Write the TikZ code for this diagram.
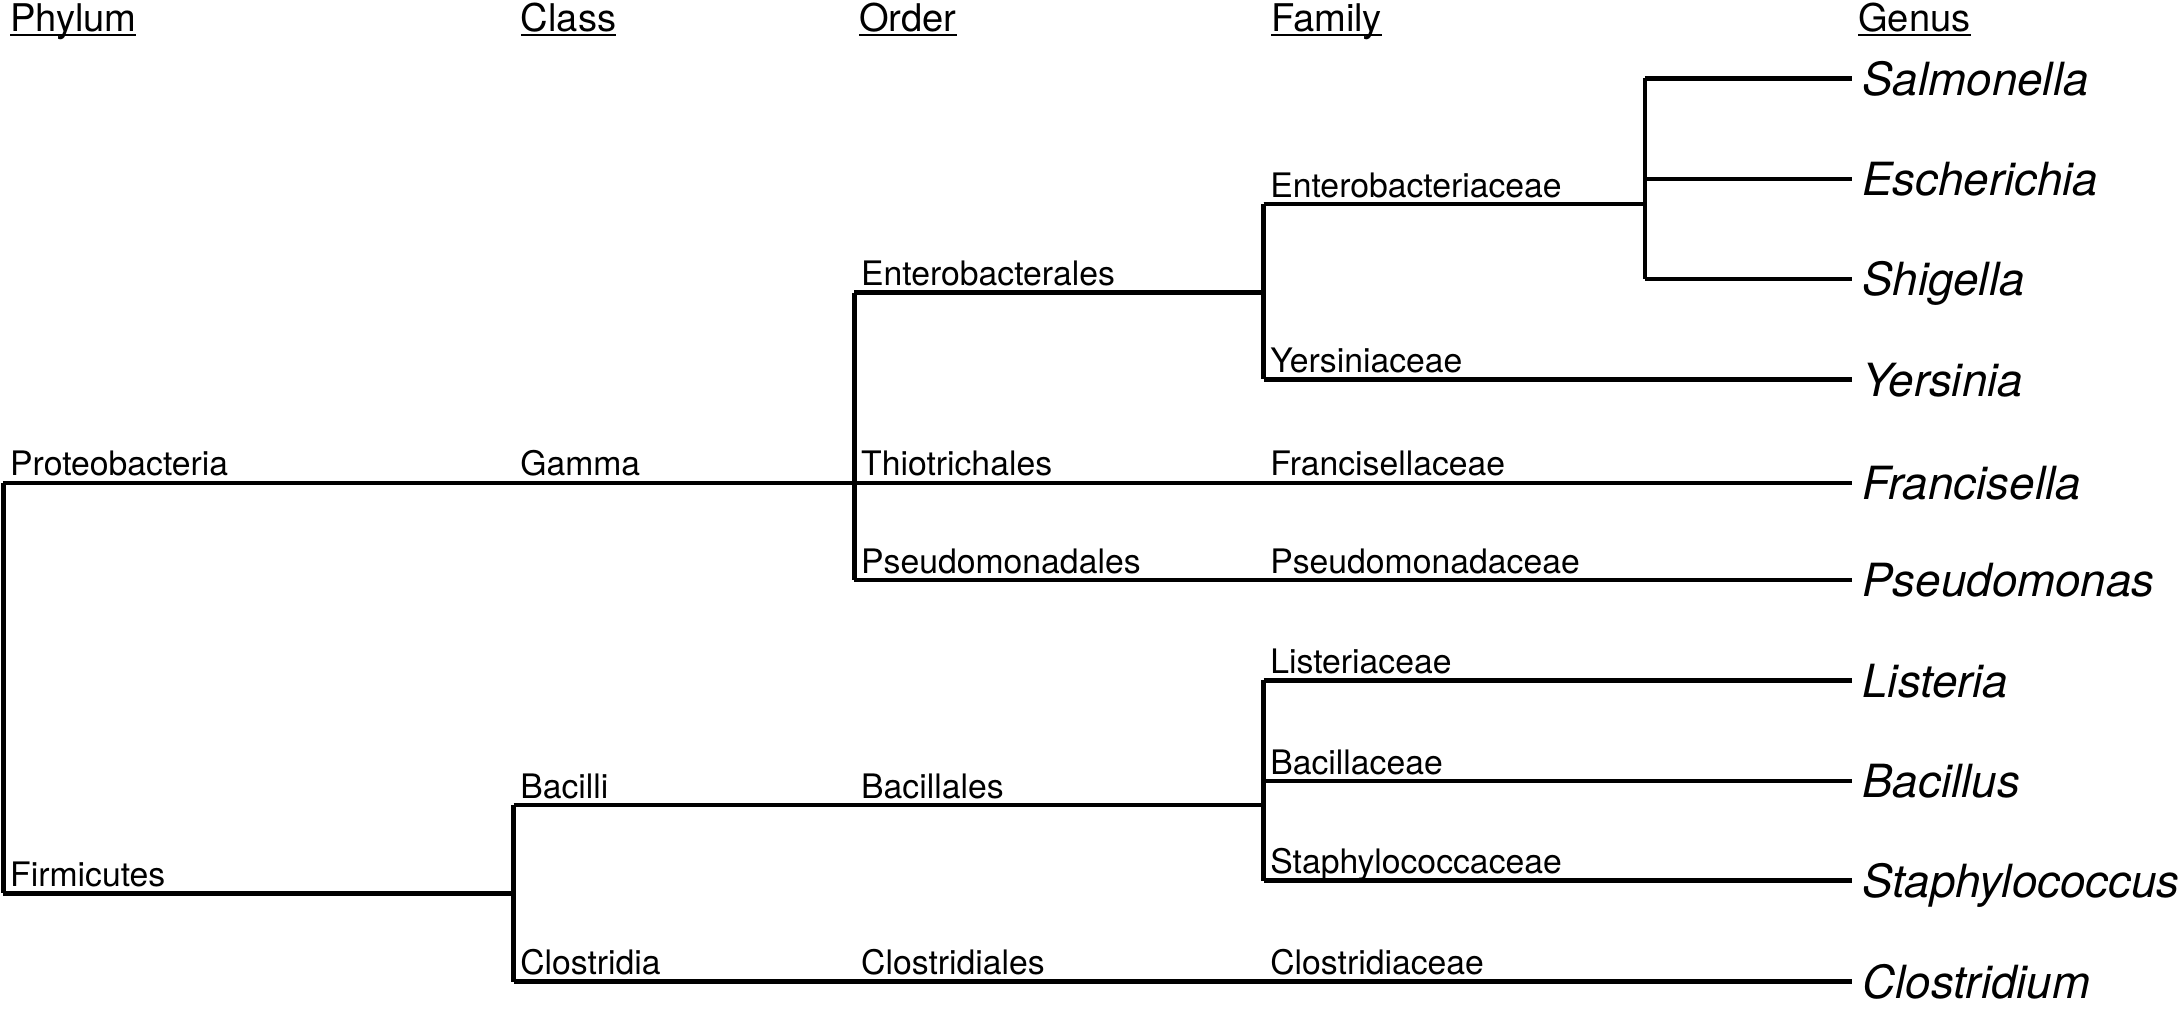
\documentclass[tikz,border=0pt]{standalone}
\usepackage{fontspec}
\setmainfont{TeX Gyre Heros}
\usetikzlibrary{positioning}
\newcommand{\rankline}[1]{\setbox0=\hbox{#1}\rlap{\rule[-1.6pt]{\wd0}{0.8pt}}\box0}

\begin{document}
\begin{tikzpicture}[x=0.02cm,y=-0.02cm,
    every node/.style={inner sep=0pt,anchor=base west},
    rank/.style={font=\fontsize{15.6}{18}\selectfont},
    taxon/.style={font=\fontsize{13.8}{16}\selectfont},
    genus/.style={font=\fontsize{18.7}{22}\selectfont\itshape},
    branch/.style={line width=1.8pt}]
  \useasboundingbox (0,0) rectangle (1568,733.7);
  % rank headings
  \node[rank] (hPhylum) at (7,22.8) {\rankline{Phylum}};
  \node[rank] (hClass) at (374,22.8) {\rankline{Class}};
  \node[rank] (hOrder) at (617,22.8) {\rankline{Order}};
  \node[rank] (hFamily) at (913,22.8) {\rankline{Family}};
  \node[rank] (hGenus) at (1335,22.8) {\rankline{Genus}};
  % branch points
  \coordinate (prot) at (2.5,347);
  \coordinate (firm) at (2.5,642);
  \coordinate (gam) at (369,347);
  \coordinate (bacl) at (369,578.5);
  \coordinate (clos) at (369,705.4);
  \coordinate (entO) at (614,210.3);
  \coordinate (thio) at (614,347);
  \coordinate (pseO) at (614,416.8);
  \coordinate (bacO) at (614,578.5);
  \coordinate (cloO) at (614,705.4);
  \coordinate (entF) at (908,146.6);
  \coordinate (yerF) at (908,272.6);
  \coordinate (fraF) at (908,347);
  \coordinate (pseF) at (908,416.8);
  \coordinate (lisF) at (908,488.9);
  \coordinate (bacF) at (908,561.2);
  \coordinate (staF) at (908,632.8);
  \coordinate (cloF) at (908,705.4);
  \coordinate (salG) at (1182,56.3);
  \coordinate (escG) at (1182,128.6);
  \coordinate (shiG) at (1182,200.7);
  % leaf ends
  \coordinate (sal) at (1330.5,56.3);
  \coordinate (esc) at (1330.5,128.6);
  \coordinate (shi) at (1330.5,200.7);
  \coordinate (yer) at (1330.5,272.6);
  \coordinate (fra) at (1330.5,347);
  \coordinate (pse) at (1330.5,416.8);
  \coordinate (lis) at (1330.5,488.9);
  \coordinate (bac) at (1330.5,561.2);
  \coordinate (sta) at (1330.5,632.8);
  \coordinate (clo) at (1330.5,705.4);
  % tree
  \draw[branch] (prot) -- (firm);
  \draw[branch] (prot) -- (gam);
  \draw[branch] (firm) -| (bacl);
  \draw[branch] (firm) -| (clos);
  \draw[branch] (gam) -| (entO);
  \draw[branch] (gam) -- (thio);
  \draw[branch] (gam) -| (pseO);
  \draw[branch] (bacl) -- (bacO);
  \draw[branch] (clos) -- (cloO);
  \draw[branch] (entO) -| (entF);
  \draw[branch] (entO) -| (yerF);
  \draw[branch] (thio) -- (fraF);
  \draw[branch] (pseO) -- (pseF);
  \draw[branch] (bacO) -| (lisF);
  \draw[branch] (bacO) -| (bacF);
  \draw[branch] (bacO) -| (staF);
  \draw[branch] (cloO) -- (cloF);
  \draw[branch] (entF) -| (salG);
  \draw[branch] (entF) -| (escG);
  \draw[branch] (entF) -| (shiG);
  \draw[branch] (salG) -- (sal);
  \draw[branch] (escG) -- (esc);
  \draw[branch] (shiG) -- (shi);
  \draw[branch] (yerF) -- (yer);
  \draw[branch] (fraF) -- (fra);
  \draw[branch] (pseF) -- (pse);
  \draw[branch] (lisF) -- (lis);
  \draw[branch] (bacF) -- (bac);
  \draw[branch] (staF) -- (sta);
  \draw[branch] (cloF) -- (clo);
  % taxon labels
  \node[taxon] (proteobacteria) at ([shift={(4.5,-5)}]prot) {Proteobacteria};
  \node[taxon] (firmicutes) at ([shift={(4.5,-5)}]firm) {Firmicutes};
  \node[taxon] (gamma) at ([shift={(4.5,-5)}]gam) {Gamma};
  \node[taxon] (bacilli) at ([shift={(4.5,-5)}]bacl) {Bacilli};
  \node[taxon] (clostridia) at ([shift={(4.5,-5)}]clos) {Clostridia};
  \node[taxon] (enterobacterales) at ([shift={(4.5,-5)}]entO) {Enterobacterales};
  \node[taxon] (thiotrichales) at ([shift={(4.5,-5)}]thio) {Thiotrichales};
  \node[taxon] (pseudomonadales) at ([shift={(4.5,-5)}]pseO) {Pseudomonadales};
  \node[taxon] (bacillales) at ([shift={(4.5,-5)}]bacO) {Bacillales};
  \node[taxon] (clostridiales) at ([shift={(4.5,-5)}]cloO) {Clostridiales};
  \node[taxon] (enterobacteriaceae) at ([shift={(4.5,-5)}]entF) {Enterobacteriaceae};
  \node[taxon] (yersiniaceae) at ([shift={(4.5,-5)}]yerF) {Yersiniaceae};
  \node[taxon] (francisellaceae) at ([shift={(4.5,-5)}]fraF) {Francisellaceae};
  \node[taxon] (pseudomonadaceae) at ([shift={(4.5,-5)}]pseF) {Pseudomonadaceae};
  \node[taxon] (listeriaceae) at ([shift={(4.5,-5)}]lisF) {Listeriaceae};
  \node[taxon] (bacillaceae) at ([shift={(4.5,-5)}]bacF) {Bacillaceae};
  \node[taxon] (staphylococcaceae) at ([shift={(4.5,-5)}]staF) {Staphylococcaceae};
  \node[taxon] (clostridiaceae) at ([shift={(4.5,-5)}]cloF) {Clostridiaceae};
  % genus labels
  \node[genus] (salmonella) at ([shift={(7.5,12)}]sal) {Salmonella};
  \node[genus] (escherichia) at ([shift={(7.5,12)}]esc) {Escherichia};
  \node[genus] (shigella) at ([shift={(7.5,12)}]shi) {Shigella};
  \node[genus] (yersinia) at ([shift={(7.5,12)}]yer) {Yersinia};
  \node[genus] (francisella) at ([shift={(7.5,12)}]fra) {Francisella};
  \node[genus] (pseudomonas) at ([shift={(7.5,12)}]pse) {Pseudomonas};
  \node[genus] (listeria) at ([shift={(7.5,12)}]lis) {Listeria};
  \node[genus] (bacillus) at ([shift={(7.5,12)}]bac) {Bacillus};
  \node[genus] (staphylococcus) at ([shift={(7.5,12)}]sta) {Staphylococcus};
  \node[genus] (clostridium) at ([shift={(7.5,12)}]clo) {Clostridium};
\end{tikzpicture}
\end{document}
